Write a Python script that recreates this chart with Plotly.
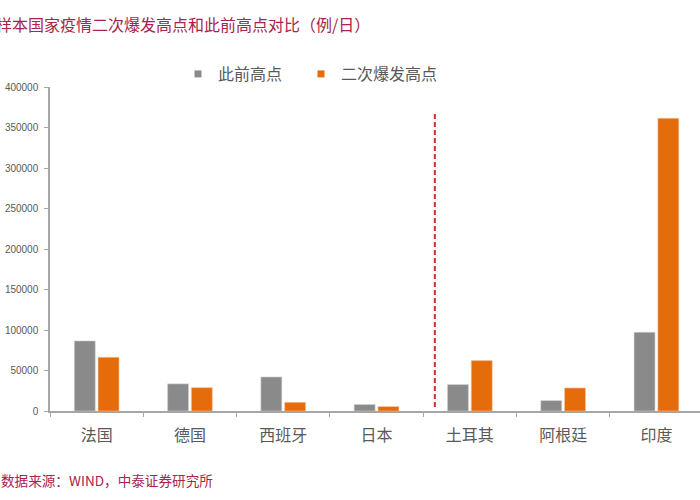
import plotly.graph_objects as go

categories = ["法国", "德国", "西班牙", "日本", "土耳其", "阿根廷", "印度"]
prev_peak = [86500, 33500, 42000, 8000, 32600, 12800, 97200]
second_peak = [66300, 28800, 10700, 5500, 62200, 28400, 361400]
series_names = ["此前高点", "二次爆发高点"]
y_ticks = [0, 50000, 100000, 150000, 200000, 250000, 300000, 350000, 400000]

GRAY = "#8a8a8a"
ORANGE = "#e46c0a"
TXT = "#595959"
AXIS = "#a6a6a6"
MAROON = "#a8234d"
CJK = "Noto Sans CJK SC"

fig = go.Figure()
fig.add_trace(go.Bar(x=categories, y=prev_peak, name=series_names[0], marker_color=GRAY,
                     marker_line=dict(color="#d0d0d0", width=0.6), showlegend=False))
fig.add_trace(go.Bar(x=categories, y=second_peak, name=series_names[1], marker_color=ORANGE,
                     marker_line=dict(color="#f5c49a", width=0.6), showlegend=False))
# legend entries with small square markers, each in its own legend box
for nm, col, lg in zip(series_names, [GRAY, ORANGE], ["legend", "legend2"]):
    fig.add_trace(go.Scatter(x=[None], y=[None], mode="markers", name=nm, legend=lg,
                             marker=dict(symbol="square", size=7, color=col), showlegend=True))

# dashed separator between Japan and Turkey
fig.add_shape(type="line", xref="x", yref="y", x0=3.625, x1=3.625, y0=5000, y1=368000,
              line=dict(color="#d42a2a", width=2, dash="5px,3px"))

fig.add_annotation(text="样本国家疫情二次爆发高点和此前高点对比（例/日）", xref="paper", yref="paper",
                   x=-56 / 650, y=(411 - 24) / 324, xanchor="left", yanchor="middle", showarrow=False,
                   font=dict(family=CJK, size=16, color=MAROON))
fig.add_annotation(text="数据来源：WIND，中泰证券研究所", xref="paper", yref="paper",
                   x=-51 / 650, y=(411 - 480) / 324, xanchor="left", yanchor="middle", showarrow=False,
                   font=dict(family=CJK, size=13.6, color=MAROON))

legend_common = dict(orientation="h", yanchor="middle", y=(411 - 74) / 324, xanchor="left",
                     font=dict(family=CJK, size=16, color=TXT), bgcolor="rgba(0,0,0,0)")

fig.update_layout(
    width=700, height=500,
    margin=dict(l=50, r=0, t=87, b=89, autoexpand=False),
    paper_bgcolor="white", plot_bgcolor="white",
    barmode="group", bargap=0.49, bargroupgap=0.12,
    legend=dict(x=(178 - 50) / 650, **legend_common),
    legend2=dict(x=(301 - 50) / 650, **legend_common),
    xaxis=dict(range=[-0.5, 6.467], showline=True, linecolor=AXIS, linewidth=1.5,
               ticks="outside", tickson="boundaries", ticklen=4, tickcolor=AXIS,
               showgrid=False, tickfont=dict(family=CJK, size=16, color=TXT), ticklabelstandoff=9),
    yaxis=dict(range=[0, 400000], tickvals=y_ticks, ticktext=[str(v) for v in y_ticks],
               showline=True, linecolor=AXIS, linewidth=1.5, ticks="outside", ticklen=4, tickcolor=AXIS,
               showgrid=False, zeroline=False, ticklabelstandoff=4,
               tickfont=dict(family="Liberation Sans, Arial", size=10, color=TXT)),
    font=dict(family=CJK),
)

fig.write_html("out.html", config={"displayModeBar": False},
               post_script="document.body.style.margin='0';")
